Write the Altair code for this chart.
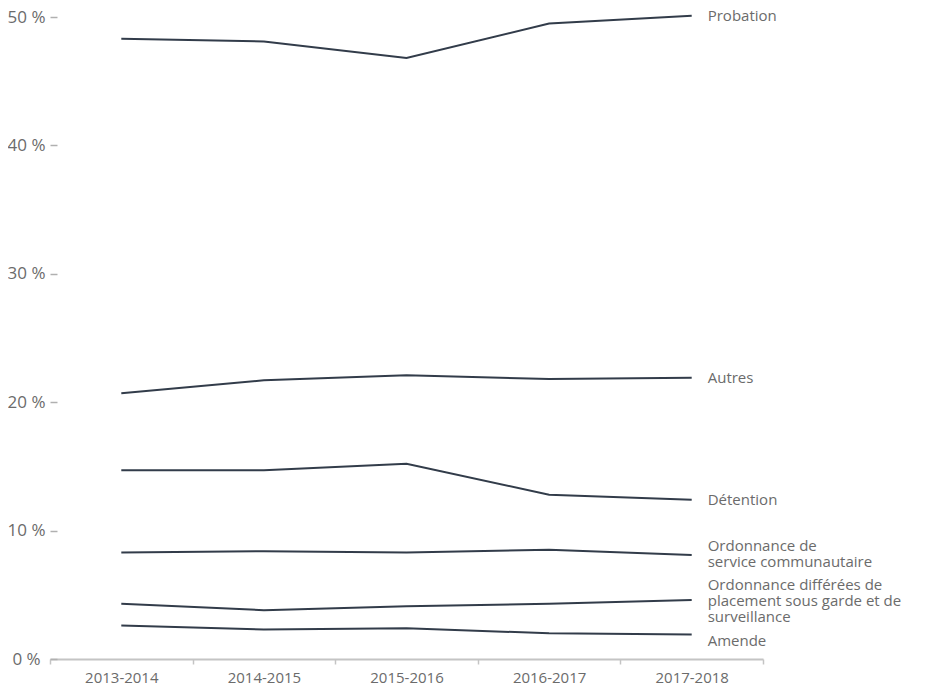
import altair as alt
import pandas as pd

years = ["2013-2014", "2014-2015", "2015-2016", "2016-2017", "2017-2018"]
series_names = [
    "Probation",
    "Autres",
    "Détention",
    "Ordonnance de\nservice communautaire",
    "Ordonnance différées de\nplacement sous garde et de\nsurveillance",
    "Amende",
]
probation = [48.3, 48.1, 46.8, 49.5, 50.1]
autres = [20.7, 21.7, 22.1, 21.8, 21.9]
detention = [14.7, 14.7, 15.2, 12.8, 12.4]
service = [8.3, 8.4, 8.3, 8.5, 8.1]
differees = [4.3, 3.8, 4.1, 4.3, 4.6]
amende = [2.6, 2.3, 2.4, 2.0, 1.9]

all_values = [probation, autres, detention, service, differees, amende]
label_shift = [0, 0, 0, -9, -15, 6]

rows = []
for name, vals in zip(series_names, all_values):
    for yr, v in zip(years, vals):
        rows.append({"serie": name, "annee": yr, "valeur": v})
df = pd.DataFrame(rows)

FONT = "Open Sans"
LINE = "#323c4a"
TXT = "#6b6b6b"

x_enc = alt.X(
    "annee:N",
    sort=years,
    scale=alt.Scale(paddingInner=0, paddingOuter=0),
    axis=alt.Axis(
        title=None,
        labelAngle=0,
        labelFont=FONT,
        labelFontSize=15,
        labelColor=TXT,
        labelPadding=6,
        domainColor="#c4c4c4",
        domainWidth=2,
        tickColor="#c4c4c4",
        tickWidth=1.5,
        tickSize=5,
        tickBand="extent",
        grid=False,
    ),
)
y_enc = alt.Y(
    "valeur:Q",
    scale=alt.Scale(domain=[0, 50], nice=False),
    axis=alt.Axis(
        title=None,
        values=[0, 10, 20, 30, 40, 50],
        labelExpr="datum.value + ' %'",
        labelFont=FONT,
        labelFontSize=17,
        labelColor=TXT,
        labelAlign="center",
        labelPadding=24,
        domain=False,
        tickColor="#b0b0b0",
        tickSize=7,
        tickWidth=1.5,
        offset=-7,
        grid=False,
    ),
)

lines = alt.Chart(df).mark_line(color=LINE, strokeWidth=2).encode(
    x=x_enc, y=y_enc, detail="serie:N"
)

layers = [lines]
for name, shift in zip(series_names, label_shift):
    sub = df[(df["annee"] == years[-1]) & (df["serie"] == name)]
    layers.append(
        alt.Chart(sub)
        .mark_text(
            align="left",
            baseline="middle",
            dx=16,
            dy=shift,
            font=FONT,
            fontSize=15,
            color=TXT,
            lineBreak="\n",
            lineHeight=16,
        )
        .encode(x=x_enc, y=y_enc, text="serie:N")
    )

chart = (
    alt.layer(*layers)
    .properties(
        width=713,
        height=642,
        background="white",
        autosize=alt.AutoSizeParams(type="none"),
        padding={"left": 42, "top": 9, "right": 170, "bottom": 30},
    )
    .configure_view(strokeWidth=0, stroke="transparent")
    .configure_axis(grid=False)
)

chart.save("out.html", embed_options={"renderer": "svg", "actions": False})
